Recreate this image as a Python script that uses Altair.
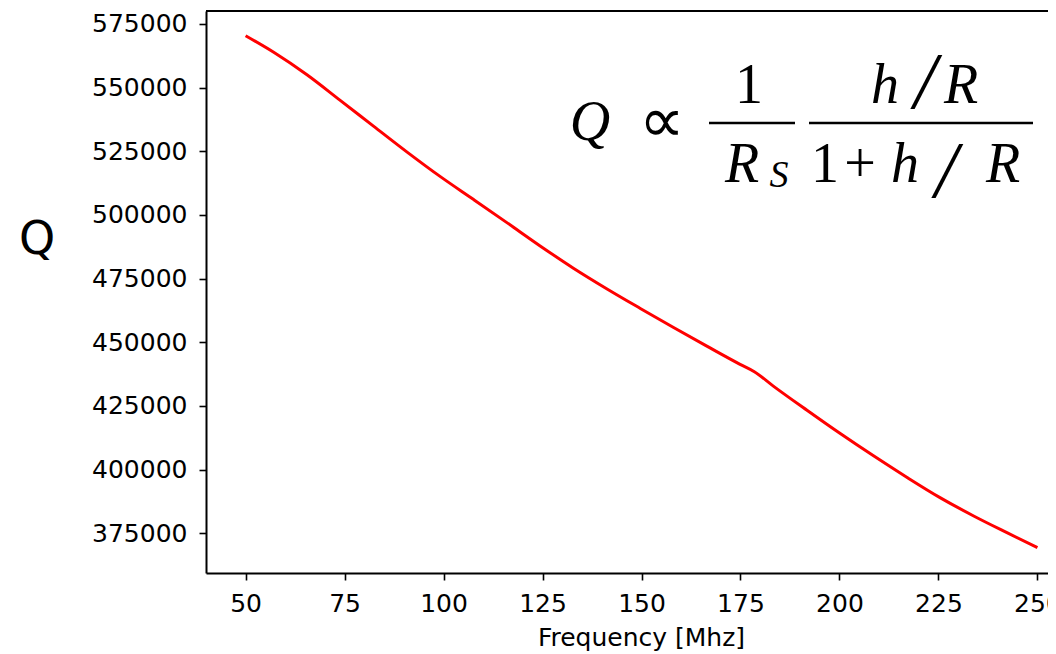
import altair as alt
import pandas as pd

# ---- data ----
freq = [50, 57.1, 65.5, 73.9, 82.3, 90.8, 99.2, 107.6, 116.0, 124.4, 132.8,
        141.3, 149.7, 158.1, 166.5, 174.9, 178.5, 183.3, 191.8, 200.2, 208.6,
        217.0, 225.4, 233.9, 242.3, 250]
q_values = [570400, 563900, 555050, 545000, 534900, 524700, 515050, 506050,
            497000, 487850, 479100, 470950, 463300, 455800, 448500, 441350,
            438450, 432800, 423300, 414150, 405400, 397000, 389000, 381800,
            375250, 369400]
x_ticks = [50, 75, 100, 125, 150, 175, 200, 225, 250]
y_ticks = [375000, 400000, 425000, 450000, 475000, 500000, 525000, 550000, 575000]

df = pd.DataFrame({"freq": freq, "Q": q_values})
one = pd.DataFrame({"k": [0]})

VIEW_W = 842
X_RANGE = 871
VIEW_H = 562

line = alt.Chart(df).mark_line(color="#ff0000", strokeWidth=3, interpolate="monotone").encode(
    x=alt.X("freq:Q",
            scale=alt.Scale(domain=[40, 260], range=[0, X_RANGE], nice=False, zero=False),
            axis=alt.Axis(values=x_ticks, grid=False, title="Frequency [Mhz]",
                          titleX=435, titleY=72, titleAlign="center",
                          titleBaseline="alphabetic", labelPadding=11,
                          labelFlush=False, labelOverlap=False)),
    y=alt.Y("Q:Q",
            scale=alt.Scale(domain=[359400, 580100], nice=False, zero=False),
            axis=alt.Axis(values=y_ticks, format="d", grid=False, title=None,
                          labelPadding=12, labelFlush=False, labelOverlap=False)),
)


def txt(s, x, y, size, italic=False, font="Liberation Serif", baseline="alphabetic"):
    kw = dict(text=s, font=font, fontSize=size, align="center",
              baseline=baseline, color="black")
    if italic:
        kw["fontStyle"] = "italic"
    return alt.Chart(one).mark_text(**kw).encode(x=alt.value(x), y=alt.value(y))


def bar(x1, x2, y):
    return alt.Chart(one).mark_rule(color="black", strokeWidth=2.5).encode(
        x=alt.value(x1), x2=alt.value(x2), y=alt.value(y))


pieces = [
    # y-axis label
    txt("Q", -169, 243, 46, font="DejaVu Sans"),
    # formula
    txt("Q", 384, 129, 56, italic=True),
    txt("∝", 456, 112, 64, baseline="middle", font="Liberation Serif"),
    txt("1", 543, 92, 56),
    txt("R", 536, 171, 56, italic=True),
    txt("S", 573, 176, 38, italic=True),
    txt("h", 679, 92, 56, italic=True),
    txt("/", 719, 97, 80, italic=True),
    txt("R", 755, 92, 56, italic=True),
    txt("1", 619, 171, 56),
    txt("+", 654, 171, 56),
    txt("h", 699, 171, 56, italic=True),
    txt("/", 740, 186, 80, italic=True),
    txt("R", 797, 171, 56, italic=True),
    bar(503, 589, 112),
    bar(603, 827, 112),
    # top frame line
    alt.Chart(one).mark_rule(color="black", strokeWidth=2).encode(
        x=alt.value(0), x2=alt.value(X_RANGE), y=alt.value(0)),
]

chart = alt.layer(line, *pieces).properties(
    width=VIEW_W, height=VIEW_H,
    padding={"left": 198, "top": 3, "right": 0, "bottom": 78},
    autosize=alt.AutoSizeParams(type="none"),
).configure_view(stroke="transparent").configure_axis(
    domainColor="black", domainWidth=2, tickColor="black", tickWidth=1.6,
    tickSize=7, labelFont="DejaVu Sans", labelFontSize=25, labelColor="black",
    titleFont="DejaVu Sans", titleFontSize=25, titleFontWeight="normal",
    titleColor="black",
)

chart.save("out.html", embed_options={"renderer": "svg", "actions": False})
